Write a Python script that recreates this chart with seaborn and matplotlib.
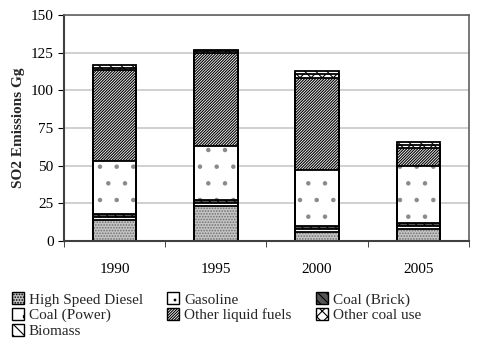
import matplotlib
matplotlib.use("Agg")
import matplotlib.pyplot as plt
import seaborn as sns
import numpy as np
import pandas as pd
from matplotlib.patches import Patch, Rectangle

years = ["1990", "1995", "2000", "2005"]
sources = ["High Speed Diesel", "Gasoline", "Coal (Brick)", "Coal (Power)",
           "Other liquid fuels", "Other coal use", "Biomass"]
high_speed_diesel = [14, 23, 6, 8]
gasoline = [2, 2, 2, 2]
coal_brick = [2, 2, 2, 2]
coal_power = [35, 36, 37, 38]
other_liquid = [60.5, 61.5, 61, 12]
other_coal = [1.5, 1.5, 3, 2]
biomass = [2, 1, 2, 1.5]

series = [high_speed_diesel, gasoline, coal_brick, coal_power,
          other_liquid, other_coal, biomass]
hatches = ["......", "..", "\\\\\\\\", ".", "////////////", "xxx", "\\\\\\"]
faces = ["#c4c4c4", "white", "#555555", "white", "white", "white", "white"]
hatch_cols = ["#707070", "#707070", "black", "#8a8a8a", "black", "black", "black"]

sns.set_style("white")
plt.rcParams["font.family"] = ["Liberation Serif", "DejaVu Serif"]
plt.rcParams["hatch.linewidth"] = 0.8

fig = plt.figure(figsize=(4.81, 3.42), dpi=100)
ax = fig.add_axes([0.133, 0.295, 0.842, 0.661])

cum = np.cumsum(np.array(series), axis=0)
# draw from the top layer down so each lower layer covers the one above
for i in range(len(sources) - 1, -1, -1):
    df = pd.DataFrame({"year": years, "value": cum[i]})
    sns.barplot(data=df, x="year", y="value", color=faces[i], width=0.43,
                edgecolor=hatch_cols[i], linewidth=0, hatch=hatches[i], ax=ax,
                saturation=1)

# black outlines on top of every segment
for p in list(ax.patches):
    ax.add_patch(Rectangle(p.get_xy(), p.get_width(), p.get_height(),
                           fill=False, edgecolor="black", linewidth=1.3,
                           zorder=p.get_zorder() + 0.1))

ax.set_ylim(0, 150)
ax.set_yticks(range(0, 151, 25))
ax.set_xlim(-0.5, 3.5)
ax.yaxis.grid(True, color="#c8c8c8", linewidth=1.2)
ax.set_axisbelow(True)
ax.set_xlabel("")
ax.set_ylabel("SO2 Emissions Gg", fontsize=11, fontweight="bold")
ax.tick_params(axis="both", labelsize=11, colors="black")
ax.tick_params(axis="x", length=0, pad=16)
ax.tick_params(axis="y", length=4, direction="out", left=True)
ax.set_xticks([-0.5, 0.5, 1.5, 2.5, 3.5], minor=True)
ax.tick_params(axis="x", which="minor", length=4, direction="out", bottom=True)
for s in ["left", "bottom"]:
    ax.spines[s].set_color("#404040")
    ax.spines[s].set_linewidth(1.5)
for s in ["top", "right"]:
    ax.spines[s].set_color("#606060")
    ax.spines[s].set_linewidth(1.2)

handles = [Patch(facecolor=faces[i], edgecolor="black", hatch=hatches[i],
                 label=sources[i]) for i in range(len(sources))]
# matplotlib fills legend columns first
order = [0, 3, 6, 1, 4, 2, 5]
fig.legend([handles[i] for i in order], [sources[i] for i in order],
           loc="upper left", bbox_to_anchor=(0.012, 0.163), ncol=3, frameon=False,
           fontsize=11, handlelength=0.8, handleheight=0.8, handletextpad=0.3,
           columnspacing=1.6, labelspacing=0.1, borderaxespad=0)

fig.savefig("out.png", dpi=100)
